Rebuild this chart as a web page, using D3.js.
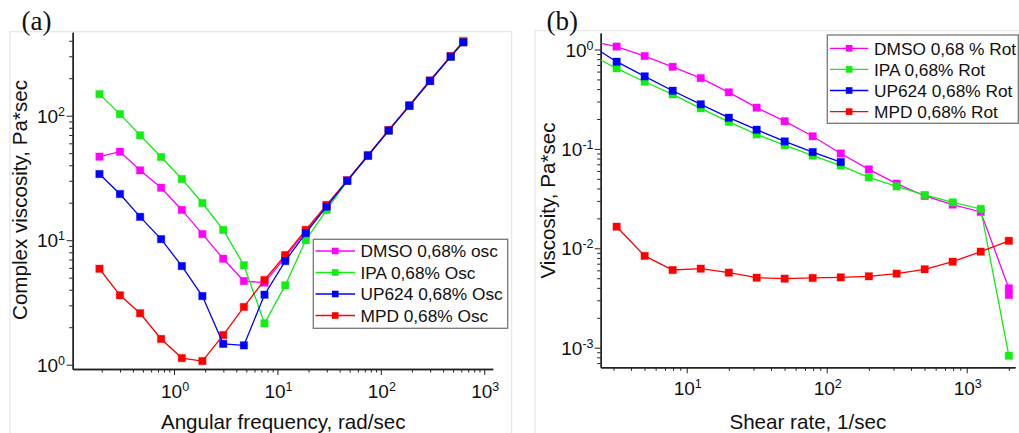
<!DOCTYPE html>
<html>
<head>
<meta charset="utf-8">
<script src="https://cdn.jsdelivr.net/npm/d3@7"></script>
<style>
  body { margin: 0; background: #fff; }
  svg { display: block; }
  text { font-family: "Liberation Sans", Arial, sans-serif; fill: #111; }
</style>
</head>
<body>
<svg id="chart" width="1019" height="433"></svg>
<script>
// ---- Panel (a): oscillatory sweep, complex viscosity vs angular frequency ----
const freq     = [0.19, 0.30, 0.47, 0.75, 1.19, 1.88, 2.99, 4.74, 7.5, 11.9, 18.8, 29.9, 47.4, 75.1, 119, 189, 299, 474, 628];
const dmsoOsc  = [46.9, 51.4, 36.4, 26.4, 17.5, 11.2, 7.1, 4.7, 4.56, 7.3, 11.8, 19.0, 30.3, 48.3, 76.5, 121, 192, 301, 398];
const ipaOsc   = [149, 103, 69.6, 46.6, 31.0, 19.9, 12.1, 6.3, 2.15, 4.34, 10.0, 17.5, 29.9, 47.7, 75.8, 120, 190, 298, 400];
const mpdOsc   = [5.9, 3.61, 2.59, 1.61, 1.13, 1.07, 1.73, 2.91, 4.79, 7.6, 12.1, 19.2, 30.2, 48.0, 76.5, 121, 191, 300, 392];
const upOsc    = [34.0, 23.5, 15.4, 10.2, 6.2, 3.56, 1.47, 1.43, 3.65, 6.8, 11.4, 18.6, 30.0, 47.7, 76.0, 120, 190, 298, 388];
const oscLabels = ["DMSO 0,68% osc", "IPA 0,68% Osc", "UP624 0,68% Osc", "MPD 0,68% Osc"];

// ---- Panel (b): rotational sweep, viscosity vs shear rate ----
const rateDmso = [2.0, 3.16, 5.01, 7.94, 12.6, 20.0, 31.6, 50.1, 79.4, 126, 200, 316, 501, 794, 1259, 2000, 2000];
const dmsoRot  = [1.22, 1.07, 0.86, 0.67, 0.516, 0.371, 0.26, 0.19, 0.134, 0.090, 0.0623, 0.0447, 0.0336, 0.0275, 0.0232, 0.00396, 0.00339];
const rateIpa  = [2.0, 3.16, 5.01, 7.94, 12.6, 20.0, 31.6, 50.1, 79.4, 126, 200, 316, 501, 794, 1259, 2000];
const ipaRot   = [0.905, 0.647, 0.474, 0.354, 0.256, 0.187, 0.140, 0.109, 0.0855, 0.0678, 0.0518, 0.0420, 0.0344, 0.0290, 0.0249, 0.00083];
const rateUp   = [2.0, 3.16, 5.01, 7.94, 12.6, 20.0, 31.6, 50.1, 79.4, 126];
const upRot    = [1.13, 0.754, 0.537, 0.385, 0.281, 0.206, 0.156, 0.119, 0.093, 0.0738];
const rateMpd  = [3.16, 5.01, 7.94, 12.6, 20.0, 31.6, 50.1, 79.4, 126, 200, 316, 501, 794, 1259, 2000];
const mpdRot   = [0.0165, 0.00838, 0.00605, 0.00624, 0.00569, 0.00506, 0.00495, 0.00503, 0.0051, 0.00523, 0.00556, 0.00615, 0.00733, 0.00925, 0.0119];
const rotLabels = ["DMSO 0,68 % Rot", "IPA 0,68% Rot", "UP624 0,68% Rot", "MPD 0,68% Rot"];

const COLORS = { dmso: "#ff00ff", ipa: "#11ee11", up: "#0000ff", mpd: "#ff0000" };
const legendColors = [COLORS.dmso, COLORS.ipa, COLORS.up, COLORS.mpd];

const svg = d3.select("#chart");

// major (decade) and minor (2..9 x decade) tick values inside a log domain
function logTicks(domain) {
  const lo = Math.floor(Math.log10(domain[0])), hi = Math.ceil(Math.log10(domain[1]));
  const majors = [], minors = [];
  for (let e = lo; e <= hi; e++) {
    const p = Math.pow(10, e);
    if (p >= domain[0] && p <= domain[1]) majors.push(p);
    for (let m = 2; m <= 9; m++) {
      const v = m * p;
      if (v >= domain[0] && v <= domain[1]) minors.push(v);
    }
  }
  return { majors, minors };
}

function powLabel(sel, v) {
  const e = Math.round(Math.log10(v));
  sel.append("tspan").text("10");
  sel.append("tspan").attr("dy", -7).attr("font-size", 12.5).text(String(e));
}

function drawPanel(p) {
  const g = svg.append("g");
  const x = d3.scaleLog().domain(p.xDomain).range([p.left, p.right]);
  const y = d3.scaleLog().domain(p.yDomain).range([p.bottom, p.top]);

  // light frame around the panel
  g.append("rect").attr("x", p.frame[0]).attr("y", p.frame[1])
    .attr("width", p.frame[2]).attr("height", p.frame[3])
    .attr("fill", "none").attr("stroke", "#e2e2e2").attr("stroke-width", 1);

  const xt = logTicks(p.xDomain), yt = logTicks(p.yDomain);

  const styleAxis = a => {
    a.selectAll("path").attr("stroke", "#222").attr("stroke-width", 1.4);
    a.selectAll("line").attr("stroke", "#222").attr("stroke-width", 1);
  };

  // x axis
  g.append("g").attr("transform", `translate(0,${p.bottom})`)
    .call(d3.axisBottom(x).tickValues(xt.minors).tickSize(3.5).tickSizeOuter(0).tickFormat(""))
    .call(styleAxis);
  g.append("g").attr("transform", `translate(0,${p.bottom})`)
    .call(d3.axisBottom(x).tickValues(xt.majors).tickSize(6).tickSizeOuter(0).tickFormat(""))
    .call(styleAxis);
  // y axis
  g.append("g").attr("transform", `translate(${p.left},0)`)
    .call(d3.axisLeft(y).tickValues(yt.minors).tickSize(3.5).tickSizeOuter(0).tickFormat(""))
    .call(styleAxis);
  g.append("g").attr("transform", `translate(${p.left},0)`)
    .call(d3.axisLeft(y).tickValues(yt.majors).tickSize(6).tickSizeOuter(0).tickFormat(""))
    .call(styleAxis);

  // tick labels with superscript exponents
  xt.majors.forEach(v => {
    g.append("text").attr("x", x(v) + 1).attr("y", p.xLabelY)
      .attr("text-anchor", "middle").attr("font-size", 19).call(powLabel, v);
  });
  yt.majors.forEach(v => {
    g.append("text").attr("x", p.yLabelX).attr("y", y(v) + 7)
      .attr("text-anchor", "end").attr("font-size", 19).call(powLabel, v);
  });

  // axis titles
  g.append("text").attr("x", (p.left + p.right) / 2 + p.xTitleDx).attr("y", p.xTitleY)
    .attr("text-anchor", "middle").attr("font-size", 20.6).text(p.xTitle);
  g.append("text").attr("transform", `translate(${p.yTitleX},${p.yTitleY}) rotate(-90)`)
    .attr("text-anchor", "middle").attr("font-size", 20.6).text(p.yTitle);

  // panel letter
  g.append("text").attr("x", p.tag[0]).attr("y", p.tag[1])
    .style("font-family", "'Liberation Serif', 'Times New Roman', serif")
    .attr("font-size", 27).text(p.tagText);

  // clipping region for the data
  const clipId = "clip-" + p.tagText.replace(/\W/g, "");
  svg.append("clipPath").attr("id", clipId).append("rect")
    .attr("x", p.left).attr("y", p.top).attr("width", p.right - p.left).attr("height", p.bottom - p.top);

  const plot = g.append("g").attr("clip-path", `url(#${clipId})`);
  const line = d3.line().x(d => x(d[0])).y(d => y(d[1]));
  const ms = 7.4;

  p.series.forEach(s => {
    const pts = s.xs.map((xv, i) => [xv, s.ys[i]]);
    plot.append("path").datum(pts).attr("d", line)
      .attr("fill", "none").attr("stroke", s.color).attr("stroke-width", 1.3);
    plot.selectAll(null).data(pts).join("rect")
      .attr("x", d => x(d[0]) - ms / 2).attr("y", d => y(d[1]) - ms / 2)
      .attr("width", ms).attr("height", ms)
      .attr("fill", s.color)
      .attr("stroke", s.color).attr("stroke-opacity", 0.35).attr("stroke-width", 1);
  });

  // legend
  const L = p.legend;
  const lg = g.append("g");
  lg.append("rect").attr("x", L.x).attr("y", L.y).attr("width", L.w).attr("height", L.h)
    .attr("fill", "#fff").attr("stroke", "#777").attr("stroke-width", 1.3);
  L.labels.forEach((lab, i) => {
    const cy = L.firstY + i * L.step;
    lg.append("line").attr("x1", L.lineX0).attr("x2", L.lineX1).attr("y1", cy).attr("y2", cy)
      .attr("stroke", legendColors[i]).attr("stroke-width", 1.3);
    const mx = (L.lineX0 + L.lineX1) / 2;
    lg.append("rect").attr("x", mx - 3.3).attr("y", cy - 3.3).attr("width", 6.6).attr("height", 6.6)
      .attr("fill", legendColors[i]);
    lg.append("text").attr("x", L.textX).attr("y", cy + 6.2).attr("font-size", 17.3).text(lab);
  });
}

drawPanel({
  left: 72.7, right: 492.7, bottom: 369, top: 32.3,
  xDomain: [0.1047, 1208], yDomain: [0.9236, 467.7],
  frame: [10, 31.7, 501.7, 430],
  xLabelY: 398, yLabelX: 65,
  xTitle: "Angular frequency, rad/sec", xTitleY: 428.5, xTitleDx: 0.5,
  yTitle: "Complex viscosity, Pa*sec", yTitleX: 27, yTitleY: 200,
  tag: [21.5, 30], tagText: "(a)",
  series: [
    { xs: freq, ys: dmsoOsc, color: COLORS.dmso },
    { xs: freq, ys: ipaOsc, color: COLORS.ipa },
    { xs: freq, ys: mpdOsc, color: COLORS.mpd },
    { xs: freq, ys: upOsc, color: COLORS.up }
  ],
  legend: { x: 313.3, y: 239.3, w: 194.4, h: 89, firstY: 251, step: 21.5,
            lineX0: 315.5, lineX1: 355, textX: 360.5, labels: oscLabels }
});

drawPanel({
  left: 600.7, right: 1015, bottom: 367.3, top: 33,
  xDomain: [2.431, 2213], yDomain: [6.35e-4, 1.466],
  frame: [535, 30.7, 500, 430],
  xLabelY: 395, yLabelX: 593.5,
  xTitle: "Shear rate, 1/sec", xTitleY: 428.5, xTitleDx: 0,
  yTitle: "Viscosity, Pa*sec", yTitleX: 555, yTitleY: 200.5,
  tag: [546.5, 30], tagText: "(b)",
  series: [
    { xs: rateDmso, ys: dmsoRot, color: COLORS.dmso },
    { xs: rateIpa, ys: ipaRot, color: COLORS.ipa },
    { xs: rateMpd, ys: mpdRot, color: COLORS.mpd },
    { xs: rateUp, ys: upRot, color: COLORS.up }
  ],
  legend: { x: 827.3, y: 35, w: 191, h: 88.3, firstY: 48.3, step: 21.1,
            lineX0: 830, lineX1: 868.3, textX: 874, labels: rotLabels }
});
</script>
</body>
</html>
